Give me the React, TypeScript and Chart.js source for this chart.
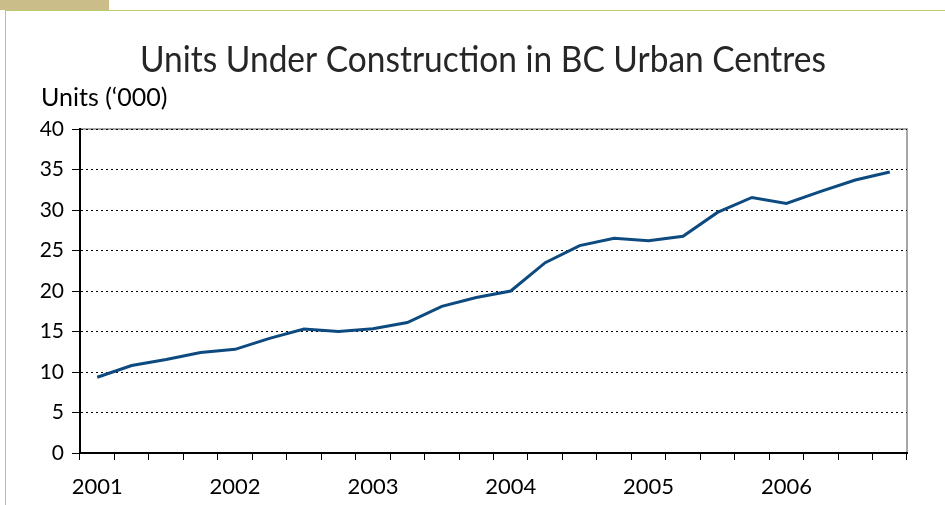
import React, { useEffect, useRef } from "react";
import { Chart, registerables } from "chart.js";

Chart.register(...registerables);

const TITLE = "Units Under Construction in BC Urban Centres";
const Y_LABEL = "Units (\u2018000)";
const YEARS = ["2001", "2002", "2003", "2004", "2005", "2006"];
const QUARTERS = ["Q1", "Q2", "Q3", "Q4"];
const CATEGORIES = YEARS.flatMap((y) => QUARTERS.map((q) => `${y} ${q}`));
const UNITS = [
  9.35, 10.8, 11.55, 12.4,
  12.8, 14.15, 15.3, 15.0,
  15.35, 16.1, 18.1, 19.2,
  20.0, 23.5, 25.6, 26.5,
  26.2, 26.75, 29.7, 31.55,
  30.8, 32.3, 33.7, 34.7,
];
const Y_MIN = 0;
const Y_MAX = 40;
const Y_STEP = 5;

const FONT = "Lato, 'Open Sans', sans-serif";

export default function App() {
  const canvasRef = useRef<HTMLCanvasElement | null>(null);

  useEffect(() => {
    const canvas = canvasRef.current;
    if (!canvas) return;

    const framePlugin = {
      id: "frame",
      beforeDraw(chart: any) {
        const { ctx, chartArea } = chart;
        ctx.save();
        ctx.strokeStyle = "#8a8a8a";
        ctx.lineWidth = 1.5;
        ctx.beginPath();
        ctx.moveTo(chartArea.left, chartArea.top);
        ctx.lineTo(chartArea.right, chartArea.top);
        ctx.lineTo(chartArea.right, chartArea.bottom);
        ctx.stroke();
        ctx.restore();
      },
      afterDraw(chart: any) {
        const { ctx } = chart;
        ctx.save();
        ctx.fillStyle = "#262626";
        ctx.textBaseline = "alphabetic";
        ctx.textAlign = "center";
        ctx.font = `36px ${FONT}`;
        ctx.fillText(TITLE, 483, 72, 686);
        ctx.fillStyle = "#000";
        ctx.textAlign = "left";
        ctx.font = `25px ${FONT}`;
        ctx.fillText(Y_LABEL, 41, 106, 133);
        ctx.restore();
      },
    };

    const chart = new Chart(canvas, {
      type: "line",
      data: {
        labels: CATEGORIES,
        datasets: [
          {
            data: UNITS,
            borderColor: "#0d4a7f",
            borderWidth: 3,
            pointRadius: 0,
            tension: 0,
            fill: false,
          },
        ],
      },
      options: {
        animation: false,
        responsive: false,
        layout: { padding: { top: 129, right: 38, left: 0, bottom: 0 } },
        plugins: {
          legend: { display: false },
          title: { display: false },
          tooltip: { enabled: false },
        },
        scales: {
          x: {
            type: "category",
            offset: true,
            afterFit(scale: any) {
              scale.height = 52;
            },
            grid: {
              offset: true,
              drawOnChartArea: false,
              drawTicks: true,
              tickLength: 7,
              tickColor: "#000",
              tickWidth: 1,
            },
            border: { display: true, color: "#000", width: 2 },
            ticks: {
              autoSkip: false,
              maxRotation: 0,
              minRotation: 0,
              padding: 14,
              color: "#000",
              font: { family: FONT, size: 22 },
              callback(value: any, index: number) {
                const label = CATEGORIES[index];
                return label.endsWith("Q1") ? label.slice(0, 4) : "";
              },
            },
          },
          y: {
            min: Y_MIN,
            max: Y_MAX,
            afterFit(scale: any) {
              scale.width = 80;
            },
            grid: {
              color: "#000",
              lineWidth: 1,
              drawTicks: true,
              tickLength: 8,
              tickColor: "#000",
              tickWidth: 1,
              tickBorderDash: [],
            },
            border: { display: true, color: "#000", width: 2, dash: [2, 3] },
            ticks: {
              stepSize: Y_STEP,
              padding: 8,
              color: "#000",
              font: { family: FONT, size: 21 },
            },
          },
        },
      },
      plugins: [framePlugin],
    });

    return () => chart.destroy();
  }, []);

  return (
    <div style={{ position: "absolute", left: 0, top: 0, width: 945, height: 505, background: "#fff", overflow: "hidden" }}>
      <div style={{ position: "absolute", left: 0, top: 0, width: 109, height: 10, background: "#cbbd8a" }} />
      <div style={{ position: "absolute", left: 5, top: 10, width: 940, height: 1, background: "#b8cc6e" }} />
      <div style={{ position: "absolute", left: 5, top: 10, width: 1, height: 495, background: "#b8cc6e" }} />
      <canvas ref={canvasRef} width={945} height={505} style={{ position: "absolute", left: 0, top: 0, display: "block" }} />
    </div>
  );
}
